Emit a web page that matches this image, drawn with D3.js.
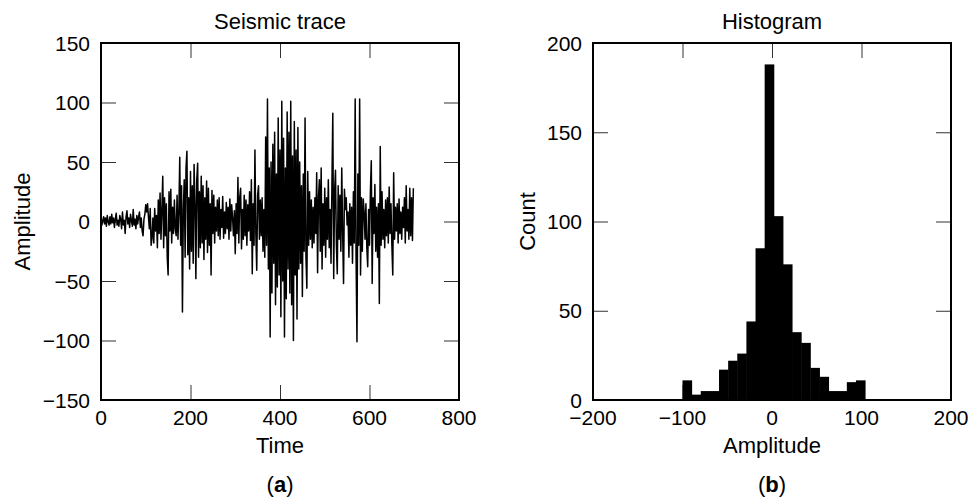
<!DOCTYPE html>
<html>
<head>
<meta charset="utf-8">
<script src="https://cdn.jsdelivr.net/npm/d3@7"></script>
<style>
  html, body { margin: 0; padding: 0; background: #fff; }
  svg text { font-family: "Liberation Sans", Arial, Helvetica, sans-serif; fill: #000; }
</style>
</head>
<body>
<svg id="chart" width="969" height="497"></svg>
<script>
// ---------- Data ----------
// Seismic trace: amplitude sampled every 2 time units, t = 0 .. 698
const traceStep = 2;
const traceValues = [
  2, -3, 1, 4, -2, 3, -4, 5, 0, -3,
  4, -2, 6, -1, 3, -5, 2, 7, -3, 1,
  -4, 5, 2, -6, 8, -3, 1, -10, 4, 9,
  -2, 3, -5, 6, 1, -4, 10, -3, 2, -6,
  5, -2, 4, 8, -5, 3, -8, -12, 2, 6,
  14, 8, 15, 4, -6, 11, -20, -14, 3, -18,
  11, -8, 5, -22, 18, -10, 24, -15, 9, 38,
  -22, 20, -12, 15, -30, -45, 25, -8, 27, -18,
  12, -10, 18, -6, -12, 22, -15, 8, 54, -20,
  30, -76, 10, 35, -30, 45, 59, -28, 20, -40,
  42, -25, 30, -35, 48, 15, -48, 35, 49, -30,
  25, -22, 38, -18, 30, -32, 20, -15, 34, -26,
  28, -20, 15, -45, 26, -10, 22, -18, 12, -8,
  18, -12, 20, -15, 10, -5, 21, -14, 8, -10,
  16, -6, 12, -15, 19, -8, 14, 3, -12, 9,
  -27, 15, -10, 37, -18, 20, 28, -23, 10, -15,
  22, -12, 18, -20, 14, -8, 25, -16, 35, -44,
  15, -20, 60, -10, -41, 22, 30, -15, 18, -12,
  20, -25, 10, -30, 71, -20, 103, -40, 45, -97,
  50, -60, 65, -35, 75, -70, 40, -55, 87, -45,
  60, -80, 101, -50, 70, -97, 45, -65, 92, -40,
  75, -60, 101, -70, 55, -100, 84, -45, 60, -82,
  79, -40, 50, -35, 30, -63, 40, -25, 87, -30,
  -56, 42, -20, 25, -15, 18, -22, 12, -18, 20,
  -10, 41, -43, 20, 35, -25, 45, -40, 15, -20,
  28, -30, 20, -15, 35, -22, 10, -35, 30, 91,
  -48, 25, 43, -20, -44, 30, -15, 22, -25, 45,
  -10, -52, 27, 10, 20, -3, 8, -30, 15, -20,
  12, -35, 25, -18, 103, -30, -101, 40, -20, 103,
  -45, 20, -25, 19, 8, -15, 15, -22, -38, 10,
  -20, 25, 51, -52, 20, -10, 31, -25, 12, -30,
  15, -69, 63, -20, 25, -15, 10, -22, 18, -12,
  20, -18, 29, -10, 15, -20, -45, 41, -15, 12,
  -8, 15, -18, 19, -10, 8, -15, 12, -5, 20,
  -18, 30, -8, 10, -15, 28, -12, 20, -16, 28
];

// Histogram: 20 bins starting at -100, width 10.2
const histStart = -100;
const histBinWidth = 10.2;
const histCounts = [11, 3, 5, 5, 17, 22, 26, 44, 85, 188, 103, 76, 38, 32, 18, 13, 5, 5, 10, 11];

// Axis ticks
const traceXTicks = [0, 200, 400, 600, 800];
const traceYTicks = [-150, -100, -50, 0, 50, 100, 150];
const histXTicks = [-200, -100, 0, 100, 200];
const histYTicks = [0, 50, 100, 150, 200];

const titles = ["Seismic trace", "Histogram"];
const xLabels = ["Time", "Amplitude"];
const yLabels = ["Amplitude", "Count"];
const panelTags = ["a", "b"];

// ---------- Drawing ----------
const svg = d3.select("#chart");
const fmt = d => (d < 0 ? "\u2212" + Math.abs(d) : String(d));
const TICK = 15;
const TICKFONT = 21;
const LABELFONT = 22;

function panel(opts) {
  const { x, y, xTicks, yTicks, title, xLabel, yLabel, tag, yLabelX } = opts;
  const [x0, x1] = x.range();
  const [y0, y1] = y.range(); // y0 bottom, y1 top
  const g = svg.append("g");

  const styleTicks = s => {
    s.select(".domain").remove();
    s.selectAll("line").attr("stroke", "#333").attr("stroke-width", 1);
  };
  g.append("g").attr("transform", `translate(0,${y0})`)
    .call(d3.axisTop(x).tickValues(xTicks).tickSize(TICK).tickFormat("")).call(styleTicks);
  g.append("g").attr("transform", `translate(0,${y1})`)
    .call(d3.axisBottom(x).tickValues(xTicks).tickSize(TICK).tickFormat("")).call(styleTicks);
  g.append("g").attr("transform", `translate(${x0},0)`)
    .call(d3.axisRight(y).tickValues(yTicks).tickSize(TICK).tickFormat("")).call(styleTicks);
  g.append("g").attr("transform", `translate(${x1},0)`)
    .call(d3.axisLeft(y).tickValues(yTicks).tickSize(TICK).tickFormat("")).call(styleTicks);

  // tick labels
  g.append("g").selectAll("text").data(xTicks).join("text")
    .attr("x", d => x(d)).attr("y", y0 + 25)
    .attr("text-anchor", "middle").attr("font-size", TICKFONT)
    .text(fmt);
  g.append("g").selectAll("text").data(yTicks).join("text")
    .attr("x", x0 - 11).attr("y", d => y(d)).attr("dy", "0.36em")
    .attr("text-anchor", "end").attr("font-size", TICKFONT)
    .text(fmt);

  // titles & labels
  const cx = (x0 + x1) / 2, cy = (y0 + y1) / 2;
  g.append("text").attr("x", cx).attr("y", 29).attr("text-anchor", "middle")
    .attr("font-size", LABELFONT).text(title);
  g.append("text").attr("x", cx).attr("y", 453).attr("text-anchor", "middle")
    .attr("font-size", LABELFONT).text(xLabel);
  g.append("text").attr("transform", `translate(${yLabelX},${cy}) rotate(-90)`)
    .attr("text-anchor", "middle").attr("font-size", LABELFONT).text(yLabel);
  const t = g.append("text").attr("x", cx).attr("y", 492).attr("text-anchor", "middle")
    .attr("font-size", LABELFONT);
  t.append("tspan").text("(");
  t.append("tspan").attr("font-weight", "bold").text(tag);
  t.append("tspan").text(")");

  return g;
}

// Panel (a): seismic trace
const xA = d3.scaleLinear().domain([0, 800]).range([101, 459]);
const yA = d3.scaleLinear().domain([-150, 150]).range([400, 43]);
const gA = panel({ x: xA, y: yA, xTicks: traceXTicks, yTicks: traceYTicks,
  title: titles[0], xLabel: xLabels[0], yLabel: yLabels[0], tag: panelTags[0], yLabelX: 30 });

const line = d3.line().x((d, i) => xA(i * traceStep)).y(d => yA(d));
gA.append("path").datum(traceValues)
  .attr("d", line).attr("fill", "none").attr("stroke", "#000")
  .attr("stroke-width", 1.5).attr("stroke-linejoin", "round");
gA.append("rect").attr("x", 101).attr("y", 43).attr("width", 358).attr("height", 357)
  .attr("fill", "none").attr("stroke", "#000").attr("stroke-width", 2);

// Panel (b): histogram
const xB = d3.scaleLinear().domain([-200, 200]).range([593, 951]);
const yB = d3.scaleLinear().domain([0, 200]).range([400, 43]);
const gB = panel({ x: xB, y: yB, xTicks: histXTicks, yTicks: histYTicks,
  title: titles[1], xLabel: xLabels[1], yLabel: yLabels[1], tag: panelTags[1], yLabelX: 535 });

gB.append("g").selectAll("rect").data(histCounts).join("rect")
  .attr("x", (d, i) => xB(histStart + i * histBinWidth))
  .attr("width", (d, i) => xB(histStart + (i + 1) * histBinWidth) - xB(histStart + i * histBinWidth) + 0.5)
  .attr("y", d => yB(d))
  .attr("height", d => yB(0) - yB(d))
  .attr("fill", "#000");
gB.append("rect").attr("x", 593).attr("y", 43).attr("width", 358).attr("height", 357)
  .attr("fill", "none").attr("stroke", "#000").attr("stroke-width", 2);
</script>
</body>
</html>
